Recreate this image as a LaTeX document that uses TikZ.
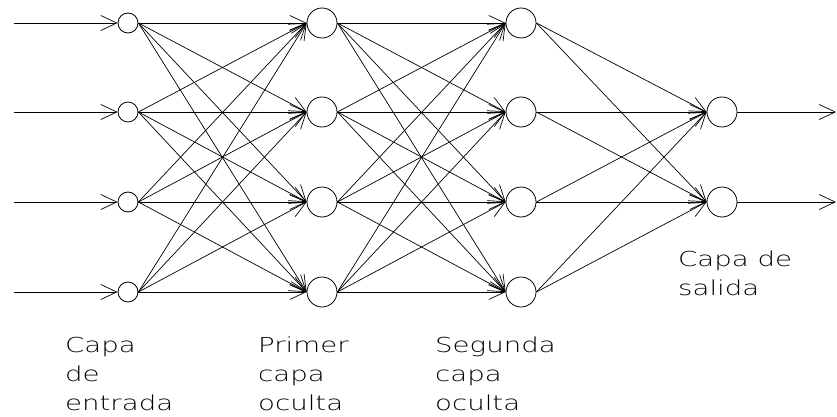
\documentclass[tikz,border=0pt]{standalone}
\usepackage{fontspec}
\setmainfont{DejaVu Sans ExtraLight}[FakeStretch=1.34]
\usetikzlibrary{arrows.meta}
\begin{document}
\begin{tikzpicture}[x=1pt,y=-1pt,
  neuron/.style={circle,draw,line width=0.8pt,inner sep=0pt},
  small/.style={neuron,minimum size=20pt},
  big/.style={neuron,minimum size=30pt},
  link/.style={line width=0.7pt,-{Straight Barb[length=16pt,width=15pt,line width=0.7pt]}},
  lbl/.style={anchor=base west,align=left,font=\fontsize{20.6}{29}\selectfont,inner sep=0pt}]
\useasboundingbox (0,0) rectangle (837,417);

% layers of neurons
\foreach \i/\y in {1/23,2/112,3/202,4/292}{
  \node[small] (i\i) at (128,\y) {};
  \node[big] (h\i) at (322,\y) {};
  \node[big] (s\i) at (521,\y) {};
  \coordinate (in\i) at (14,\y);
}
\node[big] (o1) at (722,112) {};
\node[big] (o2) at (722,202) {};
\coordinate (out1) at (836,112);
\coordinate (out2) at (836,202);

% inputs
\foreach \i in {1,...,4}
  \draw[link] (in\i) -- (i\i.west);

% fully connected layers
\foreach \a in {1,...,4}
  \foreach \b in {1,...,4}{
    \draw[link] (i\a.east) -- (h\b.west);
    \draw[link] (h\a.east) -- (s\b.west);
  }
\foreach \a in {1,...,4}
  \foreach \b in {1,2}
    \draw[link] (s\a.east) -- (o\b.west);

% outputs
\foreach \b in {1,2}
  \draw[link] (o\b.east) -- (out\b);

% layer names (anchored at the baseline of their last line)
\node[lbl] (l1) at (65,410) {Capa\\de\\entrada};
\node[lbl] (l2) at (258,410) {Primer\\capa\\oculta};
\node[lbl] (l3) at (435,410) {Segunda\\capa\\oculta};
\node[lbl] (l4) at (678,295) {Capa de\\salida};
\end{tikzpicture}
\end{document}
